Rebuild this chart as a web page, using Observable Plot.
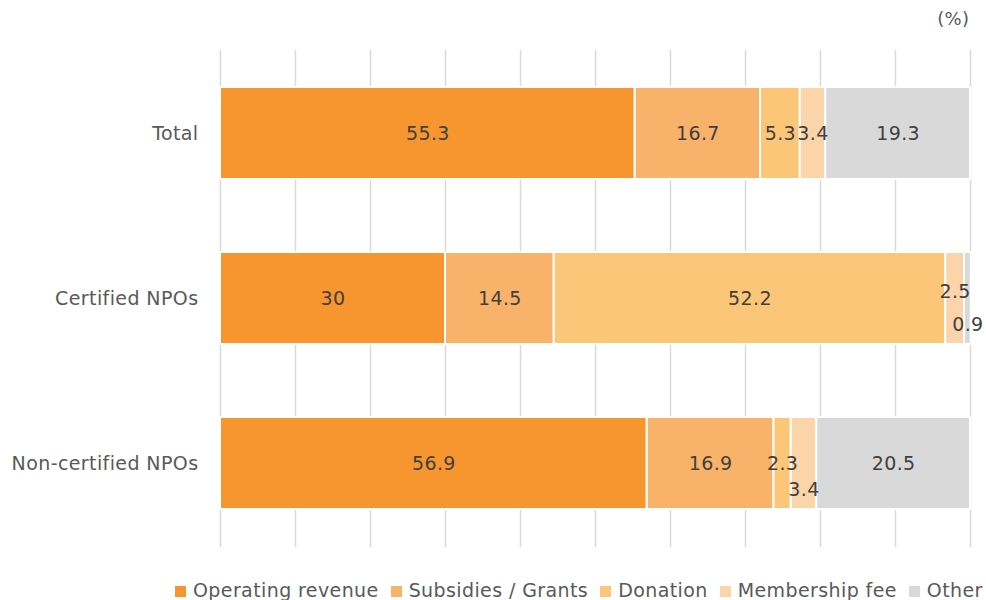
<!DOCTYPE html>
<html>
<head>
<meta charset="utf-8">
<script src="https://cdn.jsdelivr.net/npm/d3@7"></script>
<script src="https://cdn.jsdelivr.net/npm/@observablehq/plot@0.6"></script>
<style>
  html, body { margin: 0; padding: 0; background: #fff; }
  #chart { width: 986px; }
  #chart svg text { letter-spacing: 0.4px; }
  .legend { display: flex; align-items: baseline; white-space: nowrap; margin-left: 175px; margin-top: 19px;
    font-family: "DejaVu Sans", Verdana, sans-serif; font-size: 19px; letter-spacing: 0.4px; color: #595959; }
  .legend .item { display: flex; align-items: baseline; margin-right: 12px; }
  .legend .sw { display: inline-block; width: 11px; height: 11px; margin-right: 7px; }
</style>
</head>
<body>
<div id="chart"></div>
<script>
const groups = ["Total", "Certified NPOs", "Non-certified NPOs"];
const categories = ["Operating revenue", "Subsidies / Grants", "Donation", "Membership fee", "Other"];
const colors = ["#F7962F", "#F9B26A", "#FBC677", "#FCD4A9", "#D9D9D9"];
const operating = [55.3, 30, 56.9];
const subsidies = [16.7, 14.5, 16.9];
const donation = [5.3, 52.2, 2.3];
const membership = [3.4, 2.5, 3.4];
const other = [19.3, 0.9, 20.5];
const xTicks = [0, 10, 20, 30, 40, 50, 60, 70, 80, 90, 100];

const series = [operating, subsidies, donation, membership, other];
const data = [];
groups.forEach((g, gi) => {
  categories.forEach((c, ci) => {
    data.push({group: g, category: c, value: series[ci][gi]});
  });
});
// label placement rule: crowded small segments are nudged (like the spreadsheet did)
groups.forEach(g => {
  const rows = data.filter(d => d.group === g);
  rows.forEach((d, i) => {
    d.shift = 0;
    if (i > 0 && rows[i - 1].value < 3 && d.value < 4) d.shift = 1;
  });
  rows.forEach((d, i) => {
    if (d.shift === 0 && i < rows.length - 1 && rows[i + 1].shift === 1 && d.value >= 2.4 && d.value < 3) d.shift = -1;
  });
});

const font = "DejaVu Sans, Verdana, sans-serif";
const labelMark = (s, dy) => Plot.text(data, Plot.stackX({
  x: "value", y: "group", z: "category",
  text: d => d.shift === s ? String(d.value) : null,
  dy, fill: "#404040", fontSize: 19, fontFamily: font
}));

const chart = Plot.plot({
  width: 986,
  height: 560,
  marginTop: 50,
  marginBottom: 13,
  marginLeft: 220,
  marginRight: 16,
  style: {fontFamily: font, background: "#fff"},
  x: {domain: [0, 100], axis: null},
  y: {domain: groups, paddingInner: 0.44, paddingOuter: 0.22, label: null},
  color: {domain: categories, range: colors},
  marks: [
    Plot.gridX(xTicks, {stroke: "#D9D9D9", strokeOpacity: 1, strokeWidth: 1.5}),
    Plot.barX(data, Plot.stackX({x: "value", y: "group", fill: "category", z: "category", stroke: "white", strokeWidth: 2})),
    labelMark(0, 0),
    labelMark(1, 26),
    labelMark(-1, -7),
    Plot.axisY({tickSize: 0, tickPadding: 22, fontSize: 19, fill: "#595959", label: null}),
    Plot.text(["(%)"], {frameAnchor: "top-right", dy: -26, dx: -1, fontSize: 18, fill: "#595959", textAnchor: "end", lineAnchor: "bottom"})
  ]
});
document.getElementById("chart").appendChild(chart);

const legend = document.createElement("div");
legend.className = "legend";
categories.forEach((c, i) => {
  const item = document.createElement("span");
  item.className = "item";
  const sw = document.createElement("span");
  sw.className = "sw";
  sw.style.background = colors[i];
  item.appendChild(sw);
  item.appendChild(document.createTextNode(c));
  legend.appendChild(item);
});
document.getElementById("chart").appendChild(legend);
</script>
</body>
</html>
